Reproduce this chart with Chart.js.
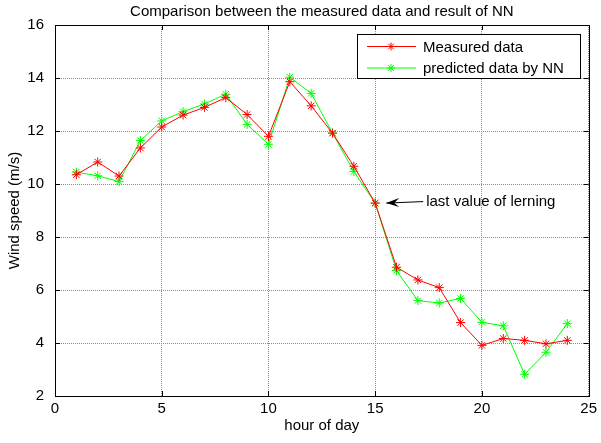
<!DOCTYPE html>
<html><head><meta charset="utf-8">
<script src="https://cdn.jsdelivr.net/npm/chart.js@4"></script>
<style>html,body{margin:0;padding:0;background:#fff}#c{display:block}</style>
</head><body>
<canvas id="c" width="601" height="443"></canvas>
<script>
const hours = [1,2,3,4,5,6,7,8,9,10,11,12,13,14,15,16,17,18,19,20,21,22,23,24];
const measured = [10.35,10.83,10.3,11.36,12.15,12.6,12.89,13.26,12.62,11.8,13.86,12.95,11.92,10.67,9.28,6.86,6.38,6.09,4.77,3.91,4.17,4.1,3.97,4.1];
const predicted = [10.45,10.31,10.09,11.64,12.38,12.73,13.02,13.39,12.25,11.5,14.03,13.42,11.92,10.47,9.28,6.73,5.6,5.51,5.68,4.78,4.65,2.82,3.65,4.73];
const xTicks = [0,5,10,15,20,25];
const yTicks = [2,4,6,8,10,12,14,16];
const titleText = 'Comparison between the measured data and result of NN';
const xTitle = 'hour of day';
const yTitle = 'Wind speed (m/s)';
const annotText = 'last value of lerning';
const annotHour = 15;

const FONT = '"Liberation Sans", Arial, sans-serif';
const FS = 15;

const deco = {
  id: 'deco',
  afterDraw(chart) {
    const ctx = chart.ctx, a = chart.chartArea;
    const xs = chart.scales.x, ys = chart.scales.y;
    ctx.save();
    ctx.fillStyle = '#000';
    ctx.font = FS + 'px ' + FONT;
    ctx.textAlign = 'center'; ctx.textBaseline = 'middle';
    // title
    ctx.fillText(titleText, (a.left + a.right) / 2, 12);
    // x title
    ctx.fillText(xTitle, (a.left + a.right) / 2, 426);
    // y title
    ctx.save();
    ctx.translate(15, (a.top + a.bottom) / 2);
    ctx.rotate(-Math.PI / 2);
    ctx.fillText(yTitle, 0, 0);
    ctx.restore();
    // box
    ctx.strokeStyle = '#000'; ctx.lineWidth = 1;
    ctx.strokeRect(Math.round(a.left) + 0.5, Math.round(a.top) + 0.5, Math.round(a.right - a.left), Math.round(a.bottom - a.top));
    // inward ticks
    ctx.beginPath();
    xTicks.forEach(v => { const px = Math.round(xs.getPixelForValue(v)) + 0.5;
      ctx.moveTo(px, a.bottom); ctx.lineTo(px, a.bottom - 5); ctx.moveTo(px, a.top); ctx.lineTo(px, a.top + 5); });
    yTicks.forEach(v => { const py = Math.round(ys.getPixelForValue(v)) + 0.5;
      ctx.moveTo(a.left, py); ctx.lineTo(a.left + 5, py); ctx.moveTo(a.right, py); ctx.lineTo(a.right - 5, py); });
    ctx.stroke();
    // legend
    const lx = 357, ly = 34, lw = 223, lh = 44;
    ctx.fillStyle = '#fff'; ctx.fillRect(lx, ly, lw, lh);
    ctx.strokeStyle = '#000'; ctx.strokeRect(lx + 0.5, ly + 0.5, lw, lh);
    chart.data.datasets.forEach((ds, i) => {
      const yy = ly + 12.5 + i * 21.5;
      ctx.strokeStyle = ds.borderColor; ctx.lineWidth = 1;
      ctx.beginPath(); ctx.moveTo(lx + 10, yy); ctx.lineTo(lx + 59, yy); ctx.stroke();
      const cx = lx + 34, r = 4;
      ctx.beginPath();
      for (let k = 0; k < 4; k++) { const ang = k * Math.PI / 4;
        ctx.moveTo(cx - r * Math.cos(ang), yy - r * Math.sin(ang)); ctx.lineTo(cx + r * Math.cos(ang), yy + r * Math.sin(ang)); }
      ctx.stroke();
      ctx.fillStyle = '#000'; ctx.font = FS + 'px ' + FONT;
      ctx.textAlign = 'left'; ctx.textBaseline = 'middle';
      ctx.fillText(ds.label, lx + 66, yy + 1);
    });
    // annotation arrow
    const px = xs.getPixelForValue(annotHour) + 11;
    const py = ys.getPixelForValue(measured[hours.indexOf(annotHour)]);
    ctx.strokeStyle = '#000'; ctx.fillStyle = '#000'; ctx.lineWidth = 1;
    ctx.beginPath(); ctx.moveTo(px, py); ctx.lineTo(px + 37, py - 1.5); ctx.stroke();
    ctx.beginPath(); ctx.moveTo(px, py); ctx.lineTo(px + 13, py - 5); ctx.lineTo(px + 8, py); ctx.lineTo(px + 13, py + 4); ctx.closePath(); ctx.fill();
    ctx.font = FS + 'px ' + FONT; ctx.textAlign = 'left'; ctx.textBaseline = 'middle';
    ctx.fillText(annotText, px + 40, py - 1);
    ctx.restore();
  }
};

new Chart(document.getElementById('c'), {
  type: 'line',
  data: {
    datasets: [
      { label: 'Measured data', data: hours.map((h, i) => ({x: h, y: measured[i]})),
        borderColor: '#ff0000', backgroundColor: '#ff0000', borderWidth: 1,
        pointStyle: 'star', pointRadius: 4.5, pointBorderWidth: 1, pointBorderColor: '#ff0000', tension: 0 },
      { label: 'predicted data by NN', data: hours.map((h, i) => ({x: h, y: predicted[i]})),
        borderColor: '#00ff00', backgroundColor: '#00ff00', borderWidth: 1,
        pointStyle: 'star', pointRadius: 4.5, pointBorderWidth: 1, pointBorderColor: '#00ff00', tension: 0 }
    ]
  },
  options: {
    responsive: false, animation: false, devicePixelRatio: 1,
    layout: { padding: { top: 25, right: 12, left: 0, bottom: 0 } },
    plugins: { legend: { display: false }, title: { display: false }, tooltip: { enabled: false } },
    scales: {
      x: { type: 'linear', min: 0, max: 25,
        afterBuildTicks: s => { s.ticks = xTicks.map(v => ({value: v})); },
        afterFit: s => { s.height = 47; },
        grid: { color: '#8c8c8c', lineWidth: 1, drawTicks: false },
        border: { display: false, dash: [1, 1] },
        ticks: { color: '#000', font: { size: FS, family: FONT }, padding: 4, maxRotation: 0 } },
      y: { type: 'linear', min: 2, max: 16,
        afterBuildTicks: s => { s.ticks = yTicks.map(v => ({value: v})); },
        afterFit: s => { s.width = 55; },
        grid: { color: '#8c8c8c', lineWidth: 1, drawTicks: false },
        border: { display: false, dash: [1, 1] },
        ticks: { color: '#000', font: { size: FS, family: FONT }, padding: 11 } }
    }
  },
  plugins: [deco]
});
</script>
</body></html>
